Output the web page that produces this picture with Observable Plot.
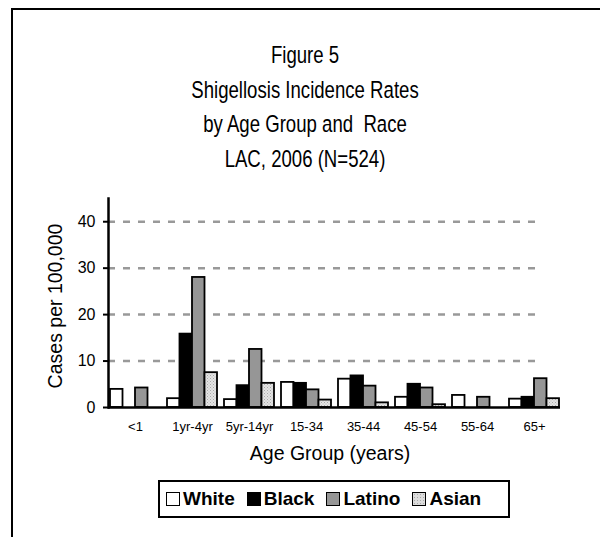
<!DOCTYPE html>
<html>
<head>
<meta charset="utf-8">
<script src="https://cdn.jsdelivr.net/npm/d3@7"></script>
<script src="https://cdn.jsdelivr.net/npm/@observablehq/plot@0.6"></script>
<style>
  html, body { margin: 0; padding: 0; background: #fff; }
  #wrap { position: relative; width: 600px; height: 537px; overflow: hidden; font-family: "Liberation Sans", Arial, sans-serif; color: #000; }
  #frame { position: absolute; left: 11px; top: 8px; width: 700px; height: 700px; border-left: 2px solid #000; border-top: 2px solid #000; }
  .tline { position: absolute; left: 10px; width: 590px; text-align: center; font-size: 18.6px; line-height: 24px; height: 24px; transform: translateY(-50%) scaleY(1.25); }
  #chart { position: absolute; left: 0; top: 0; }
  #xlabel { position: absolute; left: 230px; width: 200px; top: 442px; text-align: center; font-size: 19.5px; }
  #ylabel { position: absolute; left: 55px; top: 306px; font-size: 19.5px; white-space: nowrap; transform: translate(-50%, -50%) rotate(-90deg); }
  #legend { position: absolute; left: 158px; top: 480px; width: 348px; height: 34px; border: 2px solid #000; display: flex; align-items: center; font-weight: bold; font-size: 19px; }
  .item { display: flex; align-items: center; margin-left: 6px; margin-right: 6px; }
  .sw { display: inline-block; width: 12px; height: 12px; border: 1.5px solid #000; margin-right: 3px; }
</style>
</head>
<body>
<svg width="0" height="0" style="position:absolute">
  <defs>
    <pattern id="dots" width="3" height="3" patternUnits="userSpaceOnUse">
      <rect width="3" height="3" fill="#e4e4e4"></rect>
      <rect x="0" y="0" width="1" height="1" fill="#aaaaaa"></rect>
      <rect x="1.5" y="1.5" width="1" height="1" fill="#bbbbbb"></rect>
    </pattern>
  </defs>
</svg>
<div id="wrap">
  <div id="frame"></div>
  <div class="tline" style="top:55px">Figure 5</div>
  <div class="tline" style="top:89.5px">Shigellosis Incidence Rates</div>
  <div class="tline" style="top:124px">by Age Group and&nbsp; Race</div>
  <div class="tline" style="top:158.5px">LAC, 2006 (N=524)</div>
  <div id="chart"></div>
  <div id="xlabel">Age Group (years)</div>
  <div id="ylabel">Cases per 100,000</div>
  <div id="legend"></div>
</div>
<script>
const groups = ["<1", "1yr-4yr", "5yr-14yr", "15-34", "35-44", "45-54", "55-64", "65+"];
const races = ["White", "Black", "Latino", "Asian"];
const white  = [3.9, 1.9, 1.7, 5.4, 6.1, 2.2, 2.6, 1.8];
const black  = [0, 15.8, 4.7, 5.2, 6.8, 5.0, 0, 2.2];
const latino = [4.2, 28.0, 12.5, 3.8, 4.6, 4.2, 2.2, 6.2];
const asian  = [0, 7.5, 5.2, 1.6, 1.0, 0.6, 0, 1.9];
const yTicks = [0, 10, 20, 30, 40];

const series = [white, black, latino, asian];
const fills = ["#ffffff", "#000000", "#969696", "url(#dots)"];

const W = 600, H = 537;
const mL = 108, mR = 40, mT = 198, mB = 130;
const pI = 0.123, pO = 0.026;
const step = (W - mL - mR) / (groups.length - pI + 2 * pO);
const bw = step * (1 - pI);
const sub = bw / races.length;

const barMarks = series.map((vals, i) => {
  const rows = groups.map((g, j) => ({group: g, race: races[i], value: vals[j]})).filter(d => d.value > 0);
  return Plot.barY(rows, {
    x: "group", y: "value",
    fill: fills[i], stroke: "#000", strokeWidth: 1.8,
    insetLeft: i * sub, insetRight: (races.length - 1 - i) * sub
  });
});

const chart = Plot.plot({
  width: W, height: H,
  marginLeft: mL, marginRight: mR, marginTop: mT, marginBottom: mB,
  style: {fontFamily: "'Liberation Sans', Arial, sans-serif", background: "transparent", color: "#000"},
  x: {domain: groups, paddingInner: pI, paddingOuter: pO, label: null},
  y: {domain: [0, 45], label: null},
  marks: [
    Plot.ruleY(yTicks.filter(t => t > 0), {stroke: "#999", strokeWidth: 2.5, strokeDasharray: "7,8", insetRight: 17}),
    ...barMarks,
    Plot.axisY({ticks: yTicks, tickSize: 5, tickPadding: 8, fontSize: 16, label: null, strokeWidth: 2}),
    Plot.axisX({tickSize: 0, tickPadding: 14, fontSize: 13, label: null}),
    Plot.frame({anchor: "left", strokeWidth: 2.5}),
    Plot.ruleY([0], {stroke: "#000", strokeWidth: 2.5})
  ]
});
document.getElementById("chart").appendChild(chart);

const legend = document.getElementById("legend");
races.forEach((r, i) => {
  const it = document.createElement("span");
  it.className = "item";
  const sw = document.createElement("span");
  sw.className = "sw";
  if (i === 3) {
    sw.style.background = "#dcdcdc";
    sw.style.backgroundImage = "radial-gradient(#aaa 0.6px, transparent 0.8px)";
    sw.style.backgroundSize = "3px 3px";
  } else {
    sw.style.background = fills[i];
  }
  it.appendChild(sw);
  it.appendChild(document.createTextNode(r));
  legend.appendChild(it);
});
</script>
</body>
</html>
